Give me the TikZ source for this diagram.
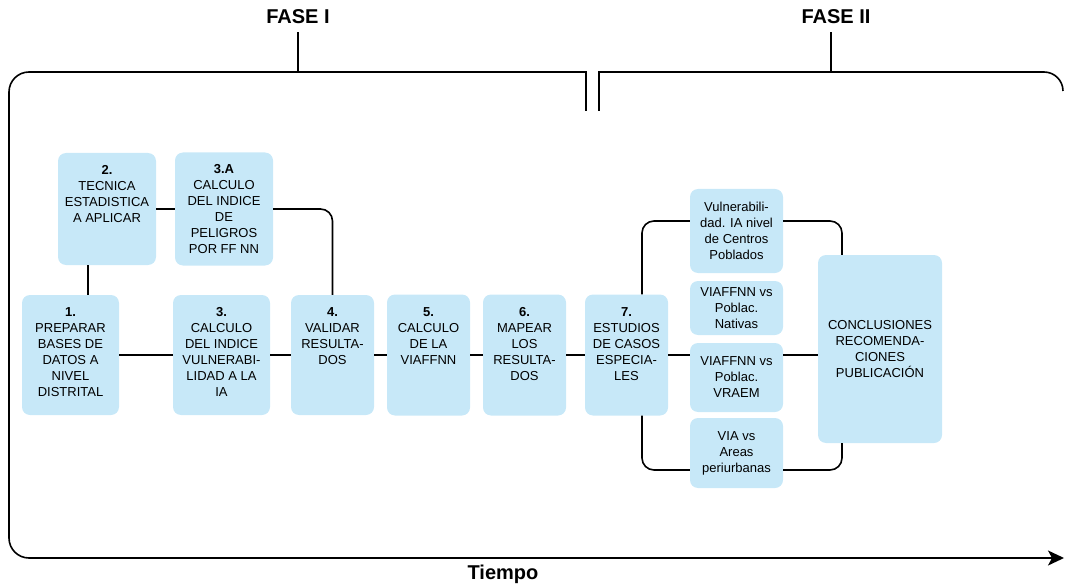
\documentclass[tikz,border=0pt]{standalone}
\usepackage{fontspec}
\setmainfont{Liberation Sans}
\usepackage{tikz}
\usetikzlibrary{arrows.meta}
\definecolor{boxblue}{RGB}{199,232,248}
\newcommand{\toptext}[3]{\parbox[c][#1][t]{#2}{\centering #3}}

\begin{document}
\begin{tikzpicture}[x=1pt, y=-1pt,
   stepbox/.style = {fill=boxblue, rounded corners=8, inner sep=0, font=\fontsize{13}{16}\selectfont},
   sidebox/.style = {stepbox, align=center, minimum width=93},
   link/.style = {line width=1.6, rounded corners=12},
   frame/.style = {line width=1.6},
   phase/.style = {inner sep=0, font=\fontsize{20}{24}\selectfont\bfseries}]
   \useasboundingbox (0,0) rectangle (1065,588);

   \node(fase1) at (298,17) [phase] {FASE I};
   \node(fase2) at (836,17) [phase] {FASE II};
   \node(tiempo) at (503,574) [phase] {Tiempo};
   \coordinate (fase1top) at (298,72);
   \coordinate (fase2top) at (831,72);

   \node(prep) at (70.5,355) [stepbox, minimum width=97, minimum height=120] {\toptext{94.6pt}{93pt}{\textbf{1.}\\PREPARAR\\BASES DE\\DATOS A\\NIVEL\\DISTRITAL}};
   \node(tecnica) at (107,209) [stepbox, minimum width=98, minimum height=112] {\toptext{88pt}{94pt}{\textbf{2.}\\TECNICA\\ESTADISTICA\\A APLICAR}};
   \node(peligros) at (224,209) [stepbox, minimum width=98, minimum height=113] {\toptext{89pt}{94pt}{\textbf{3.A}\\CALCULO\\DEL INDICE\\DE\\PELIGROS\\POR FF NN}};
   \node(vulner) at (221.5,355) [stepbox, minimum width=97, minimum height=120] {\toptext{94.6pt}{93pt}{\textbf{3.}\\CALCULO\\DEL INDICE\\VULNERABI-\\LIDAD A LA\\IA}};
   \node(validar) at (332.5,355) [stepbox, minimum width=83, minimum height=120] {\toptext{94.6pt}{80pt}{\textbf{4.}\\VALIDAR\\RESULTA-\\DOS}};
   \node(viaffnn) at (428.5,355) [stepbox, minimum width=83, minimum height=121] {\toptext{95.6pt}{80pt}{\textbf{5.}\\CALCULO\\DE LA\\VIAFFNN}};
   \node(mapear) at (524.5,355) [stepbox, minimum width=83, minimum height=121] {\toptext{95.6pt}{80pt}{\textbf{6.}\\MAPEAR\\LOS\\RESULTA-\\DOS}};
   \node(casos) at (626.5,355) [stepbox, minimum width=83, minimum height=121] {\toptext{95.6pt}{80pt}{\textbf{7.}\\ESTUDIOS\\DE CASOS\\ESPECIA-\\LES}};

   \node(centros) at (736.5,231) [sidebox, minimum height=84] {Vulnerabili-\\dad. IA nivel\\de Centros\\Poblados};
   \node(nativas) at (736.5,308) [sidebox, minimum height=54] {VIAFFNN vs\\Poblac.\\Nativas};
   \node(vraem) at (736.5,377.5) [sidebox, minimum height=69] {VIAFFNN vs\\Poblac.\\VRAEM};
   \node(periurb) at (736.5,453) [sidebox, minimum height=70] {VIA vs\\Areas\\periurbanas};
   \node(concl) at (880,349) [stepbox, align=center, minimum width=124, minimum height=188] {CONCLUSIONES\\RECOMENDA-\\CIONES\\PUBLICACIÓN};

   \draw [frame] ([yshift=-8]fase1.south) -- (fase1top);
   \draw [frame] ([xshift=-5,yshift=-8]fase2.south) -- (fase2top);
   \draw [frame] (586,111) -- (586,72) -- (29,72);
   \draw [frame, rounded corners=20] (29,72) -- (9,72) -- (9,558) -- (29,558);
   \draw [frame, -{Stealth[length=16pt, width=15pt, inset=4pt]}] (29,558) -- (1064,558);
   \draw [frame] (599,111) -- (599,72) -- (1044,72);
   \draw [frame, rounded corners=19] (1044,72) -- (1063,72) -- (1063,91);

   \draw [link] ([xshift=-19]tecnica.south) -- ([xshift=17.5]prep.north);
   \draw [link] (tecnica.east) -- (peligros.west);
   \draw [link] (peligros.east) -| (validar.north);
   \draw [link] (prep.east) -- (vulner.west);
   \draw [link] (vulner.east) -- (validar.west);
   \draw [link] (validar.east) -- (viaffnn.west);
   \draw [link] (viaffnn.east) -- (mapear.west);
   \draw [link] (mapear.east) -- (casos.west);
   \draw [link] ([xshift=15.5]casos.north) |- ([yshift=10]centros.west);
   \draw [link] ([yshift=10]centros.east) -| ([xshift=-38]concl.north);
   \draw [link] (casos.east) -- (casos.east -| vraem.west);
   \draw [link] (casos.east -| vraem.east) -- (casos.east -| concl.west);
   \draw [link] ([xshift=15.5]casos.south) |- ([yshift=-17]periurb.west);
   \draw [link] ([yshift=-17]periurb.east) -| ([xshift=-38]concl.south);
\end{tikzpicture}
\end{document}
